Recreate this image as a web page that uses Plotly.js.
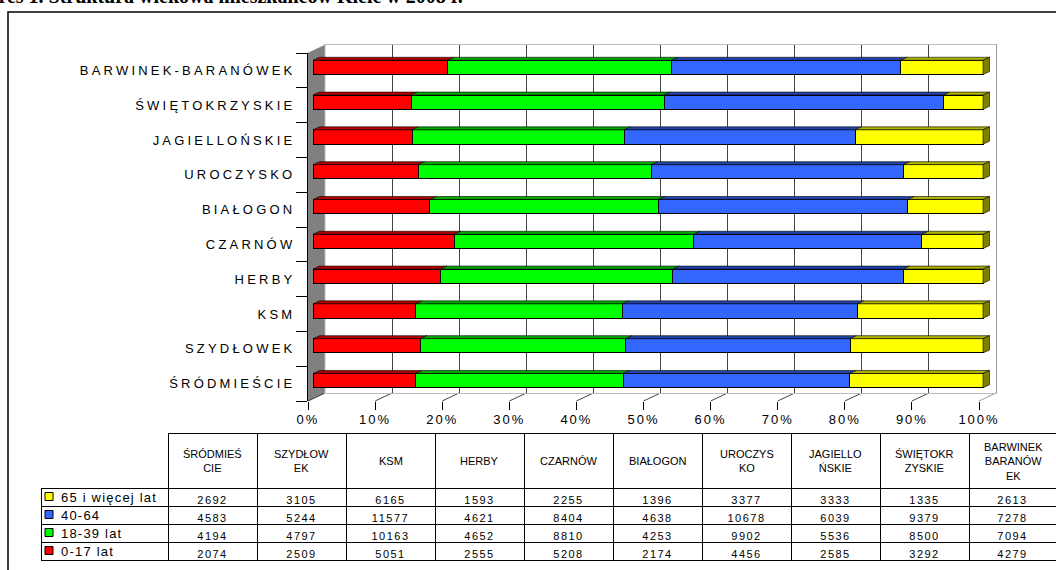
<!DOCTYPE html>
<html>
<head>
<meta charset="utf-8">
<script src="https://cdn.plot.ly/plotly-3.0.1.min.js"></script>
<style>
  html, body { margin: 0; padding: 0; background: #fff; }
  #chart { width: 1056px; height: 570px; }
  .y3tick text { letter-spacing: 3.2px; }
  .x3tick text { letter-spacing: 2px; }
  .cell-text { letter-spacing: 1.5px; }
</style>
</head>
<body>
<div id="chart"></div>
<script>
const W = 1056, H = 570;
const fx = p => p / W;
const fy = p => 1 - p / H;

// ---- data ----
const categories = ['ŚRÓDMIEŚCIE', 'SZYDŁOWEK', 'KSM', 'HERBY', 'CZARNÓW', 'BIAŁOGON',
  'UROCZYSKO', 'JAGIELLOŃSKIE', 'ŚWIĘTOKRZYSKIE', 'BARWINEK-BARANÓWEK'];
const headerLabels = ['ŚRÓDMIEŚ<br>CIE', 'SZYDŁOW<br>EK', 'KSM', 'HERBY', 'CZARNÓW', 'BIAŁOGON',
  'UROCZYS<br>KO', 'JAGIELLO<br>ŃSKIE', 'ŚWIĘTOKR<br>ZYSKIE', 'BARWINEK<br>BARANÓW<br>EK'];
const seriesNames = ['0-17 lat', '18-39 lat', '40-64', '65 i więcej lat'];
const age0_17   = [2074, 2509, 5051, 2555, 5208, 2174, 4456, 2585, 3292, 4279];
const age18_39  = [4194, 4797, 10163, 4652, 8810, 4253, 9902, 5536, 8500, 7094];
const age40_64  = [4583, 5244, 11577, 4621, 8404, 4638, 10678, 6039, 9379, 7278];
const age65plus = [2692, 3105, 6165, 1593, 2255, 1396, 3377, 3333, 1335, 2613];
const xTickVals = [0, 10, 20, 30, 40, 50, 60, 70, 80, 90, 100];
const xTickText = ['0%', '10%', '20%', '30%', '40%', '50%', '60%', '70%', '80%', '90%', '100%'];
const titleText = 'Wykres 1. Struktura wiekowa mieszkańców Kielc w 2008 r.';

// ---- styles ----
const series = [age0_17, age18_39, age40_64, age65plus];
const frontColors = ['#FF0000', '#00FF00', '#3366FF', '#FFFF00'];
const topColors = ['#B00000', '#00A800', '#2244AA', '#B0B000'];
const capColor = '#808000';
const FONT = 'Liberation Sans, Arial, sans-serif';
const catIdx = categories.map((_, i) => i);

// geometry (pixels)
const wallL = 325, wallR = 996, wallT = 45, wallB = 393;
const frontL = 308, frontR = 979, frontT = 53, frontB = 401;
const barL = 313, barPxPerUnit = 6.7, barT = 50, barB = 398;
const barXMax = 102;
const barWidth = 0.41;
const depthX = 6.5 / barPxPerUnit;
const depthY = 3 / ((barB - barT) / 10);

const traces = [];
traces.push({ type: 'scatter', x: [0, 100], y: [0, 1], mode: 'markers',
  marker: { opacity: 0 }, hoverinfo: 'skip', showlegend: false, xaxis: 'x', yaxis: 'y' });
traces.push({ type: 'scatter', x: categories.map(() => 0), y: categories, mode: 'markers',
  marker: { opacity: 0 }, hoverinfo: 'skip', showlegend: false, xaxis: 'x3', yaxis: 'y3' });
series.forEach((vals, s) => {
  traces.push({ type: 'bar', orientation: 'h', name: seriesNames[s], x: vals, y: catIdx,
    width: barWidth, xaxis: 'x2', yaxis: 'y2',
    marker: { color: frontColors[s], line: { color: '#000', width: 1 } },
    hoverinfo: 'skip', showlegend: false });
});

// table
const rowOrder = [3, 2, 1, 0];
const cellCols = [rowOrder.map(() => '')];
categories.forEach((_, i) => {
  cellCols.push(rowOrder.map(s => String(series[s][i])));
});
const tableLeft = 41, tableTop = 433, headerH = 55, rowH = 18, legendW = 127, colW = 89;
const colWidths = [legendW].concat(categories.map((_, i) => i === categories.length - 1 ? (W - tableLeft - legendW - colW * (categories.length - 1)) : colW));
traces.push({
  type: 'table',
  domain: { x: [fx(tableLeft), 1], y: [0, fy(tableTop)] },
  columnwidth: colWidths,
  header: {
    values: [''].concat(categories.map(() => '')),
    height: headerH,
    fill: { color: '#fff' },
    line: { color: ['rgba(0,0,0,0)'].concat(categories.map(() => '#000')), width: 1 },
    font: { family: FONT, size: 11, color: '#000' }
  },
  cells: {
    values: cellCols,
    height: rowH,
    align: 'center',
    fill: { color: '#fff' },
    line: { color: '#000', width: 1 },
    font: { family: FONT, size: 11, color: '#000' }
  }
});

// ---- shapes ----
const shapes = [];
shapes.push({ type: 'rect', xref: 'paper', yref: 'paper', x0: fx(8), x1: 1.02, y0: -0.02, y1: fy(12),
  line: { color: '#000', width: 1.5 }, fillcolor: 'rgba(0,0,0,0)', layer: 'below' });
shapes.push({ type: 'path', xref: 'paper', yref: 'paper', layer: 'below',
  path: `M ${fx(frontL)},${fy(frontT)} L ${fx(wallL)},${fy(wallT)} L ${fx(wallL)},${fy(wallB)} L ${fx(frontL)},${fy(frontB)} Z`,
  fillcolor: '#808080', line: { color: '#808080', width: 0.5 } });
const frontScale = (frontR - frontL) / 100, backScale = (wallR - wallL) / 100;
xTickVals.forEach(v => {
  shapes.push({ type: 'line', xref: 'paper', yref: 'paper', layer: 'below',
    x0: fx(frontL + v * frontScale), y0: fy(frontB), x1: fx(wallL + v * backScale), y1: fy(wallB),
    line: { color: v === 100 ? '#999' : '#444', width: 1 } });
});
categories.forEach((_, i) => {
  const total = series.reduce((a, sv) => a + sv[i], 0);
  let cum = 0;
  const yt = i + barWidth / 2, yb = i - barWidth / 2;
  series.forEach((sv, s) => {
    const a = cum / total * 100;
    cum += sv[i];
    const b = cum / total * 100;
    shapes.push({ type: 'path', xref: 'x2', yref: 'y2', layer: 'above',
      path: `M ${a},${yt} L ${b},${yt} L ${b + depthX},${yt + depthY} L ${a + depthX},${yt + depthY} Z`,
      fillcolor: topColors[s], line: { color: '#000', width: 0.6 } });
    if (s === series.length - 1) {
      shapes.push({ type: 'path', xref: 'x2', yref: 'y2', layer: 'above',
        path: `M ${b},${yb} L ${b},${yt} L ${b + depthX},${yt + depthY} L ${b + depthX},${yb + depthY} Z`,
        fillcolor: capColor, line: { color: '#000', width: 0.6 } });
    }
  });
});

// ---- annotations ----
const annotations = [];
annotations.push({ xref: 'paper', yref: 'paper', x: fx(-44), y: fy(10), xanchor: 'left', yanchor: 'bottom',
  text: '<b>' + titleText + '</b>', showarrow: false,
  font: { family: 'Liberation Serif, Times New Roman, serif', size: 20, color: '#000' } });
// header labels
let cx = tableLeft + legendW;
headerLabels.forEach((lab, j) => {
  annotations.push({ xref: 'paper', yref: 'paper', x: fx(cx + colW / 2), y: fy(tableTop + headerH / 2 + 0.5),
    xanchor: 'center', yanchor: 'middle', text: lab, showarrow: false,
    font: { family: FONT, size: 11, color: '#000' } });
  cx += colWidths[j + 1];
});
// legend keys + labels in the first table column
rowOrder.forEach((s, r) => {
  const cy = tableTop + headerH + rowH * r + rowH / 2;
  shapes.push({ type: 'rect', xref: 'paper', yref: 'paper', layer: 'above',
    x0: fx(45), x1: fx(53), y0: fy(cy + 3.5), y1: fy(cy - 4.5),
    fillcolor: frontColors[s], line: { color: '#000', width: 1 } });
  annotations.push({ xref: 'paper', yref: 'paper', x: fx(59), y: fy(cy), xanchor: 'left', yanchor: 'middle',
    text: '<span style="letter-spacing:1.2px">' + seriesNames[s] + '</span>', showarrow: false,
    font: { family: FONT, size: 13, color: '#000' } });
});

const layout = {
  width: W, height: H,
  margin: { l: 0, r: 0, t: 0, b: 0, pad: 0 },
  paper_bgcolor: '#fff', plot_bgcolor: 'rgba(0,0,0,0)',
  showlegend: false,
  barmode: 'stack', barnorm: 'percent',
  xaxis: { domain: [fx(wallL), fx(wallR)], range: [0, 100], anchor: 'y', tickvals: xTickVals,
    showgrid: true, gridcolor: '#444', gridwidth: 1, showticklabels: false, ticks: '',
    zeroline: false, showline: true, mirror: true, linecolor: '#bbb', linewidth: 1, fixedrange: true },
  yaxis: { domain: [fy(wallB), fy(wallT)], range: [0, 1], anchor: 'x', showgrid: false,
    showticklabels: false, ticks: '', zeroline: false, showline: true, mirror: true,
    linecolor: '#999', linewidth: 1, fixedrange: true },
  xaxis2: { domain: [fx(barL), fx(barL + barPxPerUnit * barXMax)], range: [0, barXMax], anchor: 'y2',
    visible: false, fixedrange: true },
  yaxis2: { domain: [fy(barB), fy(barT)], range: [-0.5, 9.5], anchor: 'x2', visible: false, fixedrange: true },
  xaxis3: { domain: [fx(frontL), fx(frontR)], range: [0, 100], anchor: 'y3', tickvals: xTickVals,
    ticktext: xTickText, ticks: 'outside', ticklen: 8, tickcolor: '#000', tickwidth: 1,
    showgrid: false, zeroline: false, showline: false, ticklabelstandoff: -2,
    tickfont: { family: FONT, size: 13, color: '#000' }, fixedrange: true },
  yaxis3: { domain: [fy(frontB), fy(frontT)], type: 'category', categoryorder: 'array',
    categoryarray: categories, range: [-0.5, 9.5], anchor: 'x3', tickson: 'boundaries',
    ticks: 'outside', ticklen: 11, tickcolor: '#000', tickwidth: 1, showline: true,
    linecolor: '#000', linewidth: 1, showgrid: false, zeroline: false, ticklabelstandoff: 9,
    tickfont: { family: FONT, size: 13, color: '#000' }, fixedrange: true },
  shapes: shapes,
  annotations: annotations
};

Plotly.newPlot('chart', traces, layout, { displayModeBar: false, staticPlot: true });
</script>
</body>
</html>
